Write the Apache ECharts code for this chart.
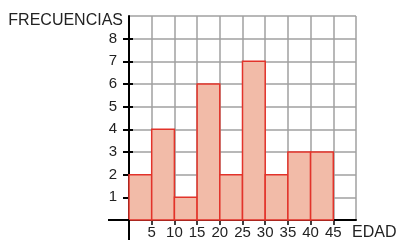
<!DOCTYPE html>
<html>
<head>
<meta charset="utf-8">
<script src="https://cdn.jsdelivr.net/npm/echarts@6/dist/echarts.min.js"></script>
<style>
  html, body { margin: 0; padding: 0; background: #fff; }
  #chart { width: 397px; height: 240px; }
</style>
</head>
<body>
<div id="chart"></div>
<script>
// intervalos de edad (inicio, fin) y frecuencias
const binStart = [0, 5, 10, 15, 20, 25, 30, 35, 40]
const binEnd = [5, 10, 15, 20, 25, 30, 35, 40, 45]
const frecuencias = [2, 4, 1, 6, 2, 7, 2, 3, 3]
const xTicks = [5, 10, 15, 20, 25, 30, 35, 40, 45]
const yTicks = [1, 2, 3, 4, 5, 6, 7, 8]

const font = 'Liberation Sans, Arial, sans-serif'
const chart = echarts.init(document.getElementById('chart'))

const barData = frecuencias.map((v, i) => [binStart[i], binEnd[i], v])

const option = {
  animation: false,
  grid: { left: 129, right: 41, top: 16, bottom: 20, outerBoundsMode: 'none', containLabel: false },
  xAxis: [
    {
      type: 'value', min: 0, max: 50, interval: 5,
      name: 'EDAD', nameLocation: 'end', nameGap: -4,
      nameTextStyle: { color: '#222', fontFamily: font, fontSize: 16, verticalAlign: 'top', padding: [5, 0, 0, 0] },
      axisLine: { show: true, lineStyle: { color: '#000', width: 2 } },
      axisTick: { show: false },
      axisLabel: {
        color: '#222', fontFamily: font, fontSize: 15, margin: 5,
        formatter: v => (xTicks.indexOf(v) >= 0 ? String(v) : '')
      },
      splitLine: { show: true, lineStyle: { color: '#a0a0a0', width: 1.5 } }
    },
    {
      // solo las marcas de la escala
      type: 'value', min: 0, max: 50, position: 'bottom',
      axisLine: { show: false },
      axisTick: { show: true, customValues: xTicks, length: 5, lineStyle: { color: '#000', width: 1.5 } },
      axisLabel: { show: false },
      splitLine: { show: false }
    }
  ],
  yAxis: [
    {
      type: 'value', min: 0, max: 9, interval: 1,
      name: 'FRECUENCIAS', nameLocation: 'end', nameGap: -5,
      nameTextStyle: { color: '#222', fontFamily: font, fontSize: 16, align: 'right', verticalAlign: 'middle', padding: [0, 6, 0, 0] },
      axisLine: { show: true, lineStyle: { color: '#000', width: 2 } },
      axisTick: { show: false },
      axisLabel: {
        color: '#222', fontFamily: font, fontSize: 15, margin: 12,
        formatter: v => (yTicks.indexOf(v) >= 0 ? String(v) : '')
      },
      splitLine: { show: true, lineStyle: { color: '#a0a0a0', width: 1.5 } }
    },
    {
      // marcas que cruzan el eje
      type: 'value', min: 0, max: 9, position: 'left', offset: -4,
      axisLine: { show: false },
      axisTick: { show: true, customValues: yTicks, length: 10, lineStyle: { color: '#000', width: 2 } },
      axisLabel: { show: false },
      splitLine: { show: false }
    }
  ],
  series: [
    {
      type: 'custom',
      xAxisIndex: 0,
      yAxisIndex: 0,
      z: 3,
      renderItem: (params, api) => {
        const p0 = api.coord([api.value(0), 0])
        const p1 = api.coord([api.value(1), api.value(2)])
        return {
          type: 'rect',
          shape: { x: p0[0], y: p1[1], width: p1[0] - p0[0], height: p0[1] - p1[1] },
          style: { fill: '#f2bba8', stroke: '#e2332a', lineWidth: 1.5 }
        }
      },
      data: barData
    }
  ]
}
chart.setOption(option)

// prolongación de los ejes (cruz)
const origin = chart.convertToPixel({ xAxisIndex: 0, yAxisIndex: 0 }, [0, 0])
chart.setOption({
  graphic: [
    { type: 'line', z: 10, shape: { x1: origin[0] - 21, y1: origin[1], x2: origin[0], y2: origin[1] }, style: { stroke: '#000', lineWidth: 2 } },
    { type: 'line', z: 10, shape: { x1: origin[0], y1: origin[1], x2: origin[0], y2: 240 }, style: { stroke: '#000', lineWidth: 2 } }
  ]
})
</script>
</body>
</html>
